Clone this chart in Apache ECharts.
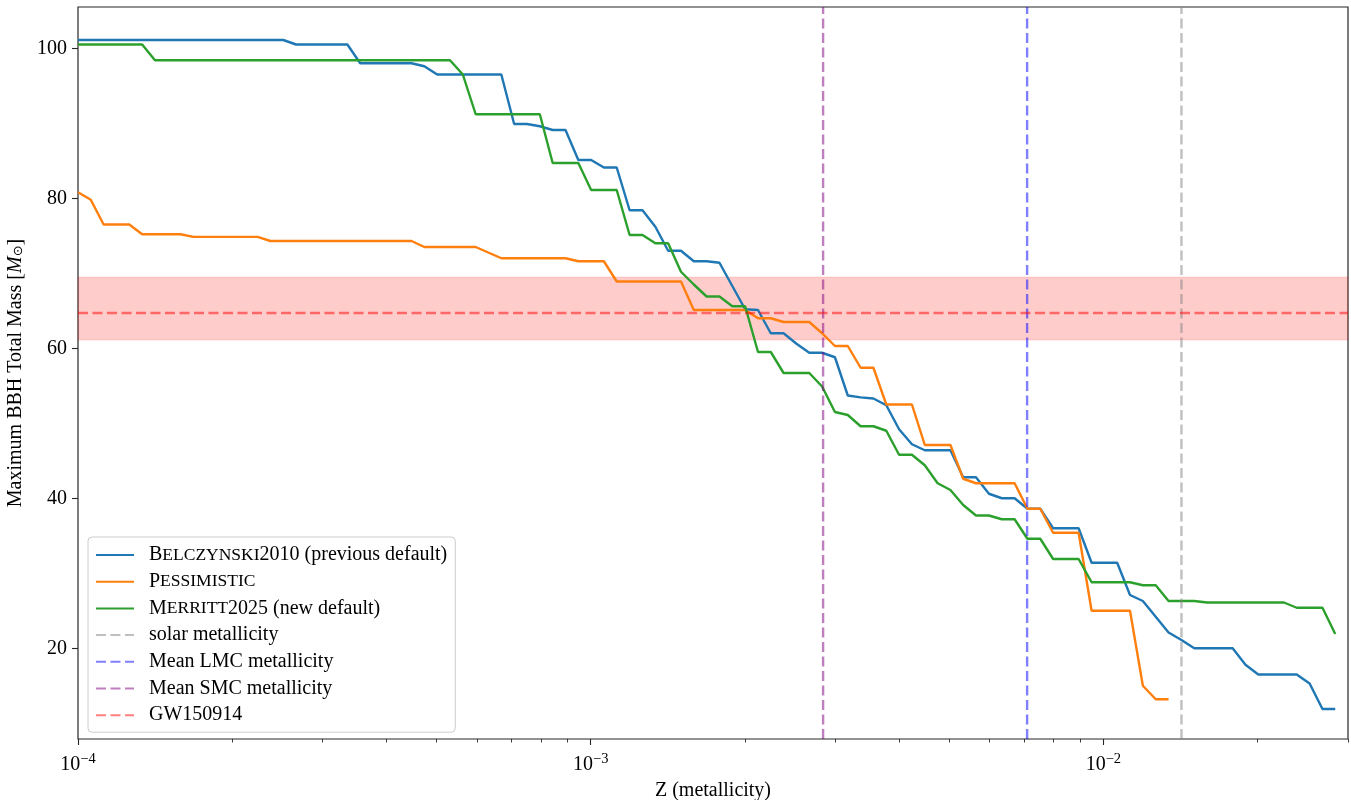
<!DOCTYPE html>
<html>
<head>
<meta charset="utf-8">
<script src="https://cdn.jsdelivr.net/npm/echarts@6/dist/echarts.min.js"></script>
<style>
  html, body { margin: 0; padding: 0; background: #fff; }
  #chart { width: 1351px; height: 800px; }
</style>
</head>
<body>
<div id="chart"></div>
<script>
// metallicity grid points (vertices of each step curve) and max BBH total mass
const belZ = [1.000e-4, 2.514e-4, 2.663e-4, 3.353e-4, 3.552e-4, 4.472e-4, 4.737e-4, 5.018e-4, 6.694e-4, 7.091e-4,
    7.512e-4, 7.958e-4, 8.430e-4, 8.930e-4, 9.460e-4, 1.002e-3, 1.061e-3, 1.124e-3, 1.191e-3, 1.262e-3,
    1.337e-3, 1.416e-3, 1.500e-3, 1.589e-3, 1.683e-3, 1.783e-3, 2.001e-3, 2.120e-3, 2.245e-3, 2.378e-3,
    2.520e-3, 2.669e-3, 2.827e-3, 2.995e-3, 3.173e-3, 3.361e-3, 3.560e-3, 3.772e-3, 3.995e-3, 4.232e-3,
    4.484e-3, 5.031e-3, 5.328e-3, 5.643e-3, 5.981e-3, 6.336e-3, 6.712e-3, 7.110e-3, 7.532e-3, 7.979e-3,
    8.947e-3, 9.485e-3, 1.064e-2, 1.127e-2, 1.194e-2, 1.340e-2, 1.420e-2, 1.504e-2, 1.787e-2, 1.893e-2,
    2.005e-2, 2.383e-2, 2.525e-2, 2.675e-2, 2.833e-2];
const belM = [101.1, 101.1, 100.5, 100.5, 98.0, 98.0, 97.6, 96.5, 96.5, 89.9,
    89.9, 89.6, 89.1, 89.1, 85.1, 85.1, 84.1, 84.1, 78.4, 78.4,
    76.2, 73.0, 73.0, 71.6, 71.6, 71.4, 65.2, 65.1, 62.0, 62.0,
    60.6, 59.4, 59.4, 58.8, 53.7, 53.45, 53.3, 52.4, 49.2, 47.2,
    46.4, 46.4, 42.8, 42.8, 40.6, 40.0, 40.0, 38.6, 38.6, 36.0,
    36.0, 31.4, 31.4, 27.1, 26.3, 22.1, 21.1, 20.0, 20.0, 17.8,
    16.5, 16.5, 15.3, 11.9, 11.9];

const pesZ = [1.000e-4, 1.059e-4, 1.122e-4, 1.259e-4, 1.334e-4, 1.585e-4, 1.680e-4, 2.240e-4, 2.373e-4, 4.472e-4,
    4.737e-4, 5.966e-4, 6.694e-4, 8.930e-4, 9.460e-4, 1.061e-3, 1.124e-3, 1.500e-3, 1.589e-3, 2.001e-3,
    2.120e-3, 2.245e-3, 2.378e-3, 2.669e-3, 2.827e-3, 2.995e-3, 3.173e-3, 3.361e-3, 3.560e-3, 3.772e-3,
    4.232e-3, 4.484e-3, 5.031e-3, 5.328e-3, 5.643e-3, 6.712e-3, 7.110e-3, 7.532e-3, 7.979e-3, 8.947e-3,
    9.485e-3, 1.127e-2, 1.194e-2, 1.265e-2, 1.340e-2];
const pesM = [80.8, 79.8, 76.5, 76.5, 75.2, 75.2, 74.85, 74.85, 74.3, 74.3,
    73.5, 73.5, 72.0, 72.0, 71.6, 71.6, 68.9, 68.9, 65.1, 65.1,
    64.0, 64.0, 63.5, 63.5, 62.0, 60.3, 60.3, 57.4, 57.4, 52.5,
    52.5, 47.1, 47.1, 42.6, 42.0, 42.0, 38.6, 38.6, 35.4, 35.4,
    25.0, 25.0, 15.0, 13.2, 13.2];

const merZ = [1.000e-4, 1.334e-4, 1.413e-4, 5.316e-4, 5.631e-4, 5.966e-4, 7.958e-4, 8.430e-4, 9.460e-4, 1.002e-3,
    1.124e-3, 1.191e-3, 1.262e-3, 1.337e-3, 1.416e-3, 1.500e-3, 1.589e-3, 1.683e-3, 1.783e-3, 1.889e-3,
    2.001e-3, 2.120e-3, 2.245e-3, 2.378e-3, 2.669e-3, 2.827e-3, 2.995e-3, 3.173e-3, 3.361e-3, 3.560e-3,
    3.772e-3, 3.995e-3, 4.232e-3, 4.484e-3, 4.750e-3, 5.031e-3, 5.328e-3, 5.643e-3, 5.981e-3, 6.336e-3,
    6.712e-3, 7.110e-3, 7.532e-3, 7.979e-3, 8.947e-3, 9.485e-3, 1.127e-2, 1.194e-2, 1.265e-2, 1.340e-2,
    1.504e-2, 1.593e-2, 2.250e-2, 2.383e-2, 2.675e-2, 2.833e-2];
const merM = [100.5, 100.5, 98.4, 98.4, 96.5, 91.2, 91.2, 84.7, 84.7, 81.1,
    81.1, 75.1, 75.1, 74.0, 74.0, 70.2, 68.5, 66.9, 66.9, 65.6,
    65.6, 59.5, 59.5, 56.7, 56.7, 54.9, 51.5, 51.1, 49.6, 49.6,
    49.0, 45.8, 45.8, 44.4, 42.0, 41.1, 39.1, 37.7, 37.7, 37.2,
    37.2, 34.6, 34.6, 31.9, 31.9, 28.8, 28.8, 28.4, 28.4, 26.3,
    26.3, 26.1, 26.1, 25.4, 25.4, 21.9];

// reference values
const zSolar = 0.0142, zLMC = 0.0071, zSMC = 0.00284;
const gwMass = 64.8, gwLow = 61.1, gwHigh = 69.5;

// axes
const xMin = 1e-4, xMax = 0.03;
const yMin = 7.9, yMax = 105.5;
const xMajorTicks = [1e-4, 1e-3, 1e-2];
const xMinorTicks = [2e-4, 3e-4, 4e-4, 5e-4, 6e-4, 7e-4, 8e-4, 9e-4,
    2e-3, 3e-3, 4e-3, 5e-3, 6e-3, 7e-3, 8e-3, 9e-3, 2e-2, 3e-2];
const yTicks = [20, 40, 60, 80, 100];

const FONT = '"Liberation Serif", serif';
const FS = 20;
const AX = '#262626';

function zip(zs, ms) {
    return zs.map((z, i) => [z, ms[i]]);
}

// model names are typeset in small caps in the original
function smallCaps(name) {
    const sp = name.indexOf(' ');
    const head = sp < 0 ? name : name.slice(0, sp);
    const tail = sp < 0 ? '' : name.slice(sp);
    let out = '';
    for (const ch of head) {
        if (ch >= 'a' && ch <= 'z') out += '{sc|' + ch.toUpperCase() + '}';
        else out += '{n|' + ch + '}';
    }
    return out + (tail ? '{n|' + tail + '}' : '');
}

const scNames = ['Belczynski2010 (previous default)', 'Pessimistic', 'Merritt2025 (new default)'];
const dash = [10, 4.5];
const LW = 2.4;

let myChart = echarts.init(document.getElementById('chart'), null, {renderer: 'canvas'});

function curve(name, color, zs, ms) {
    return {
        name: name,
        type: 'line',
        data: zip(zs, ms),
        symbol: 'none',
        color: color,
        lineStyle: {color: color, width: LW},
        z: 2
    };
}

// vertical dashed line at a metallicity, spanning the whole y range
function zLine(name, color, z) {
    return {
        name: name,
        type: 'line',
        data: [[z, yMin], [z, yMax]],
        symbol: 'none',
        color: color,
        lineStyle: {color: color, width: LW, type: dash},
        z: 3
    };
}

const gwSeries = {
    name: 'GW150914',
    type: 'line',
    data: [],
    symbol: 'none',
    color: 'rgba(255,0,0,0.5)',
    lineStyle: {color: 'rgba(255,0,0,0.5)', width: LW, type: dash},
    markLine: {
        silent: true,
        symbol: ['none', 'none'],
        label: {show: false},
        lineStyle: {color: 'rgba(255,0,0,0.5)', width: LW, type: dash},
        data: [{yAxis: gwMass}]
    },
    markArea: {
        silent: true,
        itemStyle: {color: 'rgba(255,0,0,0.2)', borderColor: 'rgba(255,0,0,0.12)', borderWidth: 1},
        data: [[{yAxis: gwLow}, {yAxis: gwHigh}]]
    },
    z: 3
};

option = {
    backgroundColor: '#fff',
    animation: false,
    grid: {
        left: 78, right: 3, top: 7, bottom: 61,
        outerBoundsMode: 'none',
        containLabel: false,
        show: true, borderColor: AX, borderWidth: 1.2, backgroundColor: 'transparent'
    },
    legend: {
        orient: 'vertical',
        left: 88,
        top: 537,
        padding: [8, 8, 7, 7],
        itemWidth: 38,
        itemHeight: 14,
        itemGap: 6.7,
        backgroundColor: 'rgba(255,255,255,0.8)',
        borderColor: '#cccccc',
        borderWidth: 1,
        borderRadius: 4,
        itemStyle: {color: 'rgba(0,0,0,0)', borderWidth: 0},
        data: ['Belczynski2010 (previous default)', 'Pessimistic', 'Merritt2025 (new default)',
            'solar metallicity', 'Mean LMC metallicity', 'Mean SMC metallicity', 'GW150914'],
        formatter: function (name) {
            return scNames.indexOf(name) >= 0 ? smallCaps(name) : '{n|' + name + '}';
        },
        textStyle: {
            fontFamily: FONT, fontSize: FS, color: '#000', lineHeight: 20, padding: [0, 0, 0, 10],
            rich: {
                n: {fontFamily: FONT, fontSize: FS, color: '#000'},
                sc: {fontFamily: FONT, fontSize: 17.5, color: '#000'}
            }
        }
    },
    xAxis: [
        {
            type: 'log',
            logBase: 10,
            min: xMin,
            max: xMax,
            name: 'Z (metallicity)',
            nameLocation: 'middle',
            nameGap: 42,
            nameTextStyle: {fontFamily: FONT, fontSize: FS, color: '#000'},
            axisLine: {show: false},
            splitLine: {show: false},
            axisTick: {show: true, length: 6, lineStyle: {color: AX, width: 1.1}, customValues: xMajorTicks},
            axisLabel: {
                customValues: xMajorTicks,
                margin: 13,
                formatter: function (v) {
                    const e = Math.round(Math.log10(v));
                    return '{b|10}{s|\u2212' + Math.abs(e) + '}';
                },
                rich: {
                    b: {fontFamily: FONT, fontSize: FS, color: '#000'},
                    s: {fontFamily: FONT, fontSize: 14.5, color: '#000', padding: [0, 0, 10, 0]}
                }
            }
        },
        {
            type: 'log',
            logBase: 10,
            min: xMin,
            max: xMax,
            position: 'bottom',
            axisLine: {show: false},
            splitLine: {show: false},
            axisLabel: {show: false},
            axisTick: {show: true, length: 3.5, lineStyle: {color: AX, width: 0.9}, customValues: xMinorTicks}
        }
    ],
    yAxis: {
        type: 'value',
        min: yMin,
        max: yMax,
        name: 'Maximum BBH Total Mass [{i|M}{sub|\u2299}]',
        nameLocation: 'middle',
        nameGap: 50,
        nameTextStyle: {
            fontFamily: FONT, fontSize: FS, color: '#000',
            rich: {
                i: {fontFamily: FONT, fontSize: FS, fontStyle: 'italic', color: '#000'},
                sub: {fontFamily: '"DejaVu Sans"', fontSize: 13, color: '#000', padding: [6, 0, 0, 0]}
            }
        },
        axisLine: {show: false},
        splitLine: {show: false},
        axisTick: {show: true, length: 6, lineStyle: {color: AX, width: 1.1}, customValues: yTicks},
        axisLabel: {customValues: yTicks, margin: 11, fontFamily: FONT, fontSize: FS, color: '#000'}
    },
    series: [
        curve('Belczynski2010 (previous default)', '#1f77b4', belZ, belM),
        curve('Pessimistic', '#ff7f0e', pesZ, pesM),
        curve('Merritt2025 (new default)', '#2ca02c', merZ, merM),
        zLine('solar metallicity', 'rgba(128,128,128,0.5)', zSolar),
        zLine('Mean LMC metallicity', 'rgba(0,0,255,0.5)', zLMC),
        zLine('Mean SMC metallicity', 'rgba(128,0,128,0.5)', zSMC),
        gwSeries
    ]
};

myChart.setOption(option, true);
</script>
</body>
</html>
